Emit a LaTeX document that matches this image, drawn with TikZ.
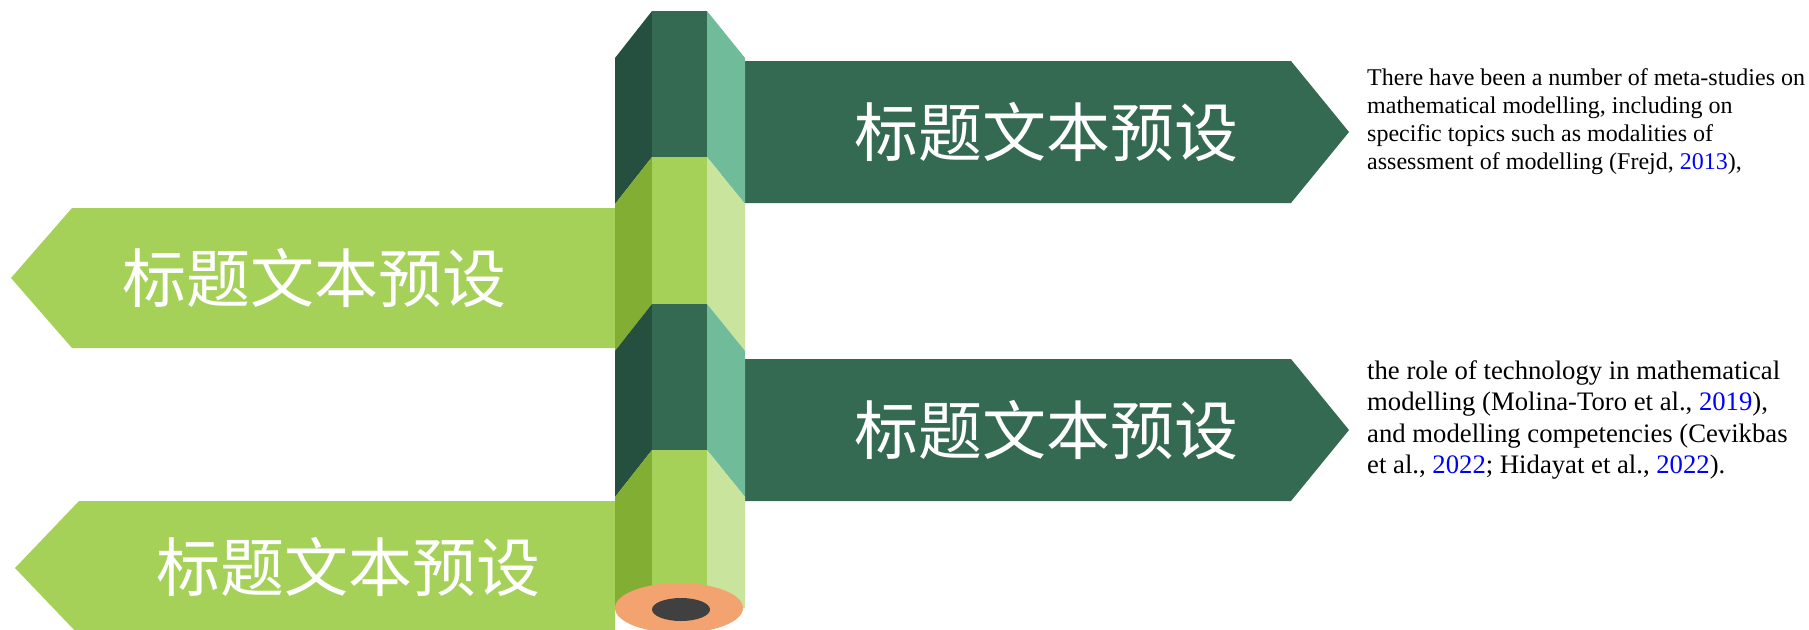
\documentclass[tikz,border=0pt]{standalone}
\usepackage{fontspec}
\setmainfont{Liberation Serif}
\newfontfamily\cjk{Noto Sans CJK SC}

\definecolor{bandDark}{HTML}{346A52}
\definecolor{facetDark}{HTML}{254F3E}
\definecolor{facetTeal}{HTML}{70BB9A}
\definecolor{bandLight}{HTML}{A5D159}
\definecolor{facetGreen}{HTML}{82AE33}
\definecolor{facetPale}{HTML}{C9E49C}
\definecolor{tipWood}{HTML}{F3A36F}
\definecolor{tipLead}{HTML}{404040}
\definecolor{citeBlue}{HTML}{0000FF}

% one pencil segment: top and bottom of the front face, then the three face colours
\newcommand\pencilseg[5]{%
  \fill[#3] (615,#1+47) -- (652,#1) -- (652,#2) -- (615,#2+47) -- cycle;
  \fill[#4] (652,#1) rectangle (707,#2);
  \fill[#5] (707,#1) -- (745,#1+47) -- (745,#2+47) -- (707,#2) -- cycle;
}

\begin{document}
\begin{tikzpicture}[x=1pt,y=-1pt,
  bandtitle/.style={text=white, inner sep=0pt, font=\cjk\fontsize{64}{64}\selectfont},
  bodytext/.style={anchor=base west, inner sep=0pt, text=black}]
\useasboundingbox (0,0) rectangle (1809,629);
\clip (0,0) rectangle (1809,629);

% banners pointing left (behind the pencil)
\fill[bandLight] (615,208) -- (72,208) -- (11,278) -- (72,348) -- (615,348) -- cycle;
\fill[bandLight] (615,501) -- (79,501) -- (15,568) -- (79,635) -- (615,635) -- cycle;

% banners pointing right
\fill[bandDark] (745,61) -- (1291,61) -- (1349,132) -- (1291,203) -- (745,203) -- cycle;
\fill[bandDark] (745,359) -- (1291,359) -- (1349,430) -- (1291,501) -- (745,501) -- cycle;

% pencil body
\pencilseg{11}{157}{facetDark}{bandDark}{facetTeal}
\pencilseg{157}{304}{facetGreen}{bandLight}{facetPale}
\pencilseg{304}{450}{facetDark}{bandDark}{facetTeal}
\fill[facetGreen] (615,497) -- (652,450) -- (652,608) -- (615,608) -- cycle;
\fill[bandLight] (652,450) rectangle (707,608);
\fill[facetPale] (707,450) -- (745,497) -- (745,608) -- (707,608) -- cycle;

% sharpened end
\fill[tipWood] (679,608) ellipse [x radius=64, y radius=25];
\fill[tipLead] (681,609.5) ellipse [x radius=29, y radius=11.5];

% banner titles
\node[bandtitle] (t1) at (1046,132) {标题文本预设};
\node[bandtitle] (t2) at (1046,430) {标题文本预设};
\node[bandtitle] (t3) at (314,278) {标题文本预设};
\node[bandtitle] (t4) at (348,567) {标题文本预设};

% side notes
\node[bodytext] (p1) at (1367,85) {\parbox[t]{442pt}{\fontsize{24}{28.3}\selectfont\raggedright
There have been a number of meta-studies on\\
mathematical modelling, including on\\
specific topics such as modalities of\\
assessment of modelling (Frejd, \textcolor{citeBlue}{2013}),}};
\node[bodytext] (p2) at (1367,379) {\parbox[t]{442pt}{\fontsize{26.7}{31.5}\selectfont\raggedright
the role of technology in mathematical\\
modelling (Molina-Toro et al., \textcolor{citeBlue}{2019}),\\
and modelling competencies (Cevikbas\\
et al., \textcolor{citeBlue}{2022}; Hidayat et al., \textcolor{citeBlue}{2022}).}};
\end{tikzpicture}
\end{document}
